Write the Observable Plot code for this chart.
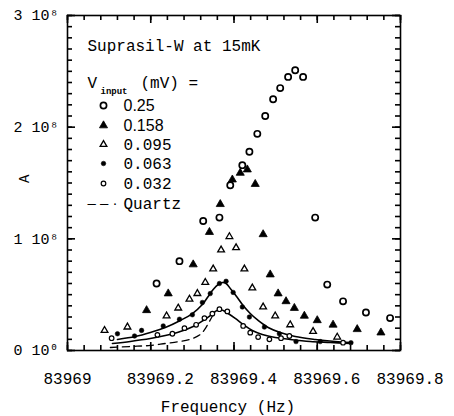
<!DOCTYPE html>
<html>
<head>
<meta charset="utf-8">
<script src="https://cdn.jsdelivr.net/npm/d3@7"></script>
<script src="https://cdn.jsdelivr.net/npm/@observablehq/plot@0.6"></script>
<style>
  html, body { margin: 0; padding: 0; background: white; overflow: hidden; }
</style>
</head>
<body>
<div id="chart"></div>
<script>
// ---- Data (amplitude in units of 1e8) ----
const f250 = [83969.214, 83969.269, 83969.326, 83969.365, 83969.391, 83969.420, 83969.437, 83969.456, 83969.475, 83969.494, 83969.511, 83969.530, 83969.547, 83969.566, 83969.595, 83969.624, 83969.662, 83969.717, 83969.775];
const a250 = [0.60, 0.80, 1.16, 1.19, 1.48, 1.66, 1.78, 1.94, 2.10, 2.25, 2.35, 2.45, 2.51, 2.45, 1.19, 0.59, 0.44, 0.34, 0.29];

const f158 = [83969.190, 83969.242, 83969.302, 83969.341, 83969.367, 83969.396, 83969.415, 83969.432, 83969.451, 83969.470, 83969.487, 83969.506, 83969.525, 83969.545, 83969.569, 83969.600, 83969.638, 83969.696, 83969.753];
const a158 = [0.36, 0.51, 0.77, 1.06, 1.31, 1.53, 1.59, 1.62, 1.49, 1.04, 0.68, 0.51, 0.44, 0.38, 0.31, 0.27, 0.23, 0.19, 0.16];

const f095 = [83969.089, 83969.144, 83969.238, 83969.266, 83969.293, 83969.312, 83969.331, 83969.350, 83969.369, 83969.389, 83969.405, 83969.425, 83969.444, 83969.470, 83969.499, 83969.535, 83969.590, 83969.648];
const a095 = [0.18, 0.21, 0.31, 0.38, 0.46, 0.51, 0.61, 0.73, 0.90, 1.02, 0.92, 0.73, 0.56, 0.39, 0.31, 0.23, 0.17, 0.12];

const f063 = [83969.120, 83969.161, 83969.178, 83969.230, 83969.269, 83969.300, 83969.324, 83969.343, 83969.365, 83969.381, 83969.398, 83969.420, 83969.437, 83969.473, 83969.509, 83969.549, 83969.607, 83969.681];
const a063 = [0.15, 0.13, 0.18, 0.22, 0.28, 0.32, 0.43, 0.51, 0.60, 0.62, 0.52, 0.39, 0.30, 0.21, 0.15, 0.08, 0.08, 0.07];

const f032 = [83969.106, 83969.216, 83969.252, 83969.281, 83969.309, 83969.329, 83969.348, 83969.365, 83969.384, 83969.422, 83969.439, 83969.458, 83969.485, 83969.513, 83969.533, 83969.662];
const a032 = [0.11, 0.14, 0.15, 0.20, 0.23, 0.29, 0.33, 0.37, 0.35, 0.22, 0.16, 0.12, 0.10, 0.11, 0.13, 0.07];

// fitted curves
const fFit063 = [83969.120, 83969.163, 83969.199, 83969.235, 83969.271, 83969.300, 83969.324, 83969.338, 83969.350, 83969.362, 83969.372, 83969.381, 83969.393, 83969.408, 83969.422, 83969.439, 83969.458, 83969.482, 83969.511, 83969.547, 83969.595, 83969.643, 83969.679];
const aFit063 = [0.099, 0.125, 0.161, 0.206, 0.269, 0.331, 0.412, 0.484, 0.546, 0.591, 0.609, 0.600, 0.546, 0.475, 0.403, 0.331, 0.269, 0.206, 0.161, 0.125, 0.099, 0.081, 0.072];

const fFit032 = [83969.108, 83969.151, 83969.199, 83969.235, 83969.271, 83969.302, 83969.326, 83969.343, 83969.355, 83969.365, 83969.374, 83969.386, 83969.403, 83969.422, 83969.444, 83969.468, 83969.499, 83969.535, 83969.583, 83969.631, 83969.679];
const aFit032 = [0.063, 0.081, 0.107, 0.134, 0.170, 0.215, 0.269, 0.313, 0.349, 0.367, 0.358, 0.331, 0.287, 0.233, 0.179, 0.143, 0.116, 0.099, 0.081, 0.072, 0.063];

const fQuartz = [83969.103, 83969.151, 83969.199, 83969.235, 83969.271, 83969.300, 83969.319, 83969.331, 83969.341, 83969.350];
const aQuartz = [0.027, 0.036, 0.045, 0.063, 0.081, 0.107, 0.143, 0.197, 0.260, 0.322];

const legendLabels = ["0.25", "0.158", "0.095", "0.063", "0.032"];

const xTicks = [83969, 83969.2, 83969.4, 83969.6, 83969.8];
const xTickLabels = ["83969", "83969.2", "83969.4", "83969.6", "83969.8"];
const yTicks = [0, 1, 2, 3];
const yTickLabels = ["0 10\u2070", "1 10\u2078", "2 10\u2078", "3 10\u2078"];

// ---- Build ----
const pts = (f, a) => f.map((x, i) => ({f: x, a: a[i]}));
const mono = "'Liberation Mono', 'DejaVu Sans Mono', monospace";
const sans = "'Liberation Sans', Arial, sans-serif";

const W = 454, H = 416, ML = 67, MR = 54, MT = 15, MB = 66;
const FW = W - ML - MR, FH = H - MT - MB;

const xMinor = d3.range(0, 21).map(i => 83969 + i * 0.04);
const yMinor = d3.range(0, 31).map(i => i * 0.1);

const styles = [
  {symbol: "circle", r: 3.1, fill: "white", stroke: "black", strokeWidth: 1.7},
  {symbol: "triangle", r: 3.0, fill: "black", stroke: "black", strokeWidth: 0.8},
  {symbol: "triangle", r: 2.5, fill: "white", stroke: "black", strokeWidth: 1.3},
  {symbol: "circle", r: 2.3, fill: "black", stroke: "black", strokeWidth: 0.5},
  {symbol: "circle", r: 2.3, fill: "white", stroke: "black", strokeWidth: 1.2}
];
const seriesData = [pts(f250, a250), pts(f158, a158), pts(f095, a095), pts(f063, a063), pts(f032, a032)];
const legendDy = [90, 110, 129, 148, 168];
const legendFonts = [sans, sans, mono, mono, mono];

const minorLen = 5, majorLen = 8;
const marks = [
  // inward ticks on all four sides
  Plot.ruleX(xMinor, {x: d => d, insetTop: FH - minorLen, stroke: "black", strokeWidth: 1.6}),
  Plot.ruleX(xMinor, {x: d => d, insetBottom: FH - minorLen, stroke: "black", strokeWidth: 1.6}),
  Plot.ruleX(xTicks, {x: d => d, insetTop: FH - majorLen, stroke: "black", strokeWidth: 1.6}),
  Plot.ruleX(xTicks, {x: d => d, insetBottom: FH - majorLen, stroke: "black", strokeWidth: 1.6}),
  Plot.ruleY(yMinor, {y: d => d, insetRight: FW - minorLen, stroke: "black", strokeWidth: 1.6}),
  Plot.ruleY(yMinor, {y: d => d, insetLeft: FW - minorLen, stroke: "black", strokeWidth: 1.6}),
  Plot.ruleY(yTicks, {y: d => d, insetRight: FW - majorLen, stroke: "black", strokeWidth: 1.6}),
  Plot.ruleY(yTicks, {y: d => d, insetLeft: FW - majorLen, stroke: "black", strokeWidth: 1.6}),
  Plot.frame({stroke: "black", strokeWidth: 1.6}),
  // tick labels
  Plot.axisX(xTicks, {anchor: "bottom", tickSize: 0, tickPadding: 22, label: null,
    tickFormat: d => xTickLabels[xTicks.indexOf(d)], textAnchor: "start", dx: -24,
    fontSize: 16, fontFamily: mono}),
  Plot.axisY(yTicks, {anchor: "left", tickSize: 0, tickPadding: 9, label: null,
    tickFormat: d => yTickLabels[yTicks.indexOf(d)], fontSize: 15, fontFamily: mono}),
  // axis titles
  Plot.text(["Frequency (Hz)"], {text: d => d, frameAnchor: "bottom", dx: -6, dy: 56, lineAnchor: "middle", fontSize: 16, fontFamily: mono}),
  Plot.text(["A"], {text: d => d, frameAnchor: "left", dx: -43, rotate: -90, fontSize: 14, fontFamily: mono}),
  // fit curves
  Plot.line(pts(fFit063, aFit063), {x: "f", y: "a", curve: "catmull-rom", stroke: "black", strokeWidth: 1.6}),
  Plot.line(pts(fFit032, aFit032), {x: "f", y: "a", curve: "catmull-rom", stroke: "black", strokeWidth: 1.6}),
  Plot.line(pts(fQuartz, aQuartz), {x: "f", y: "a", curve: "catmull-rom", stroke: "black", strokeWidth: 1.3, strokeDasharray: "7,5"})
];

seriesData.forEach((d, i) => {
  marks.push(Plot.dot(d, {x: "f", y: "a", ...styles[i]}));
});

// legend
marks.push(Plot.text(["Suprasil-W at 15mK"], {text: d => d, frameAnchor: "top-left", dx: 20, dy: 30, textAnchor: "start", lineAnchor: "middle", fontSize: 16, fontFamily: mono}));
marks.push(Plot.text(["V"], {text: d => d, frameAnchor: "top-left", dx: 20, dy: 67, textAnchor: "start", lineAnchor: "middle", fontSize: 16, fontFamily: mono}));
marks.push(Plot.text(["input"], {text: d => d, frameAnchor: "top-left", dx: 33, dy: 76, textAnchor: "start", lineAnchor: "middle", fontSize: 9, fontWeight: "bold", fontFamily: mono}));
marks.push(Plot.text(["(mV) ="], {text: d => d, frameAnchor: "top-left", dx: 73, dy: 67, textAnchor: "start", lineAnchor: "middle", fontSize: 16, fontFamily: mono}));
legendLabels.forEach((lab, i) => {
  marks.push(Plot.dot([lab], {frameAnchor: "top-left", dx: 36, dy: legendDy[i], ...styles[i]}));
  marks.push(Plot.text([lab], {text: d => d, frameAnchor: "top-left", dx: 56, dy: legendDy[i], textAnchor: "start", lineAnchor: "middle", fontSize: 16, fontFamily: legendFonts[i]}));
});
marks.push(Plot.text(["\u2013 \u2013 \u00b7"], {text: d => d, frameAnchor: "top-left", dx: 20, dy: 188, textAnchor: "start", lineAnchor: "middle", fontSize: 15, fontFamily: sans}));
marks.push(Plot.text(["Quartz"], {text: d => d, frameAnchor: "top-left", dx: 56, dy: 188, textAnchor: "start", lineAnchor: "middle", fontSize: 16, fontFamily: mono}));

const chart = Plot.plot({
  width: W,
  height: H,
  marginLeft: ML,
  marginRight: MR,
  marginTop: MT,
  marginBottom: MB,
  style: {background: "white", color: "black", fontFamily: mono},
  x: {domain: [83969, 83969.8]},
  y: {domain: [0, 3]},
  marks
});
document.getElementById("chart").appendChild(chart);
</script>
</body>
</html>
